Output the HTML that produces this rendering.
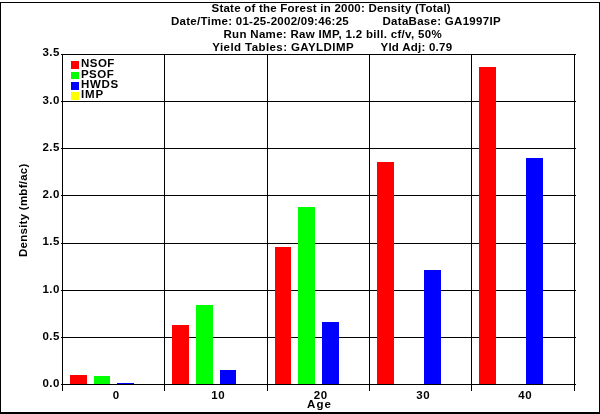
<!DOCTYPE html>
<html><head><meta charset="utf-8"><title>State of the Forest in 2000: Density (Total)</title>
<style>
html,body{margin:0;padding:0;background:#fff;}
body{width:600px;height:414px;overflow:hidden;}
svg{display:block;}
text{font-family:"Liberation Sans",Arial,sans-serif;font-weight:bold;font-size:11.5px;fill:#000;white-space:pre;}
</style></head><body>
<svg width="600" height="414" viewBox="0 0 600 414">
<rect x="0" y="0" width="600" height="414" fill="#fff"/>
<g shape-rendering="crispEdges">
<rect x="0" y="2" width="600" height="1" fill="#000"/>
<rect x="0" y="2" width="1" height="412" fill="#000"/>
<rect x="599" y="2" width="1" height="412" fill="#000"/>
<rect x="0" y="412" width="600" height="2" fill="#000"/>
<rect x="61" y="54" width="515" height="1" fill="#000"/>
<rect x="61" y="101" width="515" height="1" fill="#000"/>
<rect x="61" y="148" width="515" height="1" fill="#000"/>
<rect x="61" y="195" width="515" height="1" fill="#000"/>
<rect x="61" y="243" width="515" height="1" fill="#000"/>
<rect x="61" y="290" width="515" height="1" fill="#000"/>
<rect x="61" y="337" width="515" height="1" fill="#000"/>
<rect x="61" y="384" width="515" height="1" fill="#000"/>
<rect x="62" y="54" width="1" height="337" fill="#000"/>
<rect x="164" y="54" width="1" height="337" fill="#000"/>
<rect x="267" y="54" width="1" height="337" fill="#000"/>
<rect x="369" y="54" width="1" height="337" fill="#000"/>
<rect x="471" y="54" width="1" height="337" fill="#000"/>
<rect x="574" y="54" width="1" height="337" fill="#000"/>
<rect x="70" y="375" width="17" height="9" fill="#ff0000"/>
<rect x="94" y="376" width="16" height="8" fill="#00ff00"/>
<rect x="117" y="383" width="17" height="1" fill="#0000ff"/>
<rect x="172" y="325" width="17" height="59" fill="#ff0000"/>
<rect x="196" y="305" width="17" height="79" fill="#00ff00"/>
<rect x="220" y="370" width="16" height="14" fill="#0000ff"/>
<rect x="275" y="247" width="16" height="137" fill="#ff0000"/>
<rect x="298" y="207" width="17" height="177" fill="#00ff00"/>
<rect x="322" y="322" width="17" height="62" fill="#0000ff"/>
<rect x="377" y="162" width="17" height="222" fill="#ff0000"/>
<rect x="424" y="270" width="17" height="114" fill="#0000ff"/>
<rect x="479" y="67" width="17" height="317" fill="#ff0000"/>
<rect x="526" y="158" width="17" height="226" fill="#0000ff"/>
<rect x="71" y="61" width="8" height="8" fill="#ff0000"/>
<rect x="71" y="72" width="8" height="7" fill="#00ff00"/>
<rect x="71" y="82" width="8" height="8" fill="#0000ff"/>
<rect x="71" y="92" width="8" height="8" fill="#ffff00"/>
</g>
<text x="211.50" y="12" textLength="239.15" lengthAdjust="spacing">State of the Forest in 2000: Density (Total)</text>
<text x="171.00" y="25" textLength="177.72" lengthAdjust="spacing">Date/Time: 01-25-2002/09:46:25</text>
<text x="382.50" y="25" textLength="118.06" lengthAdjust="spacing">DataBase: GA1997IP</text>
<text x="223.50" y="38" textLength="218.12" lengthAdjust="spacing">Run Name: Raw IMP, 1.2 bill. cf/v, 50%</text>
<text x="212.30" y="51.4" textLength="141.25" lengthAdjust="spacing">Yield Tables: GAYLDIMP</text>
<text x="380.50" y="51.4" textLength="71.57" lengthAdjust="spacing">Yld Adj: 0.79</text>
<text x="81.00" y="67" textLength="33.34" lengthAdjust="spacing">NSOF</text>
<text x="81.00" y="77.8" textLength="32.67" lengthAdjust="spacing">PSOF</text>
<text x="81.00" y="88" textLength="37.26" lengthAdjust="spacing">HWDS</text>
<text x="81.00" y="98" textLength="22.14" lengthAdjust="spacing">IMP</text>
<text x="307.00" y="407.6" textLength="23.97" lengthAdjust="spacing">Age</text>
<text x="42.62" y="56.1" textLength="16.68" lengthAdjust="spacing">3.5</text>
<text x="42.62" y="103.8" textLength="16.68" lengthAdjust="spacing">3.0</text>
<text x="42.62" y="151" textLength="16.68" lengthAdjust="spacing">2.5</text>
<text x="42.62" y="197.8" textLength="16.68" lengthAdjust="spacing">2.0</text>
<text x="42.62" y="245" textLength="16.68" lengthAdjust="spacing">1.5</text>
<text x="42.62" y="292.8" textLength="16.68" lengthAdjust="spacing">1.0</text>
<text x="42.62" y="339.8" textLength="16.68" lengthAdjust="spacing">0.5</text>
<text x="42.62" y="386.6" textLength="16.68" lengthAdjust="spacing">0.0</text>
<text x="112.66" y="399.2" textLength="6.68" lengthAdjust="spacing">0</text>
<text x="211.33" y="399.2" textLength="13.35" lengthAdjust="spacing">10</text>
<text x="313.83" y="399.2" textLength="13.35" lengthAdjust="spacing">20</text>
<text x="416.33" y="399.2" textLength="13.35" lengthAdjust="spacing">30</text>
<text x="518.33" y="399.2" textLength="13.35" lengthAdjust="spacing">40</text>
<text transform="translate(27.4,257) rotate(-90)" x="0" y="0" textLength="93.35" lengthAdjust="spacing">Density (mbf/ac)</text>
</svg>
</body></html>
